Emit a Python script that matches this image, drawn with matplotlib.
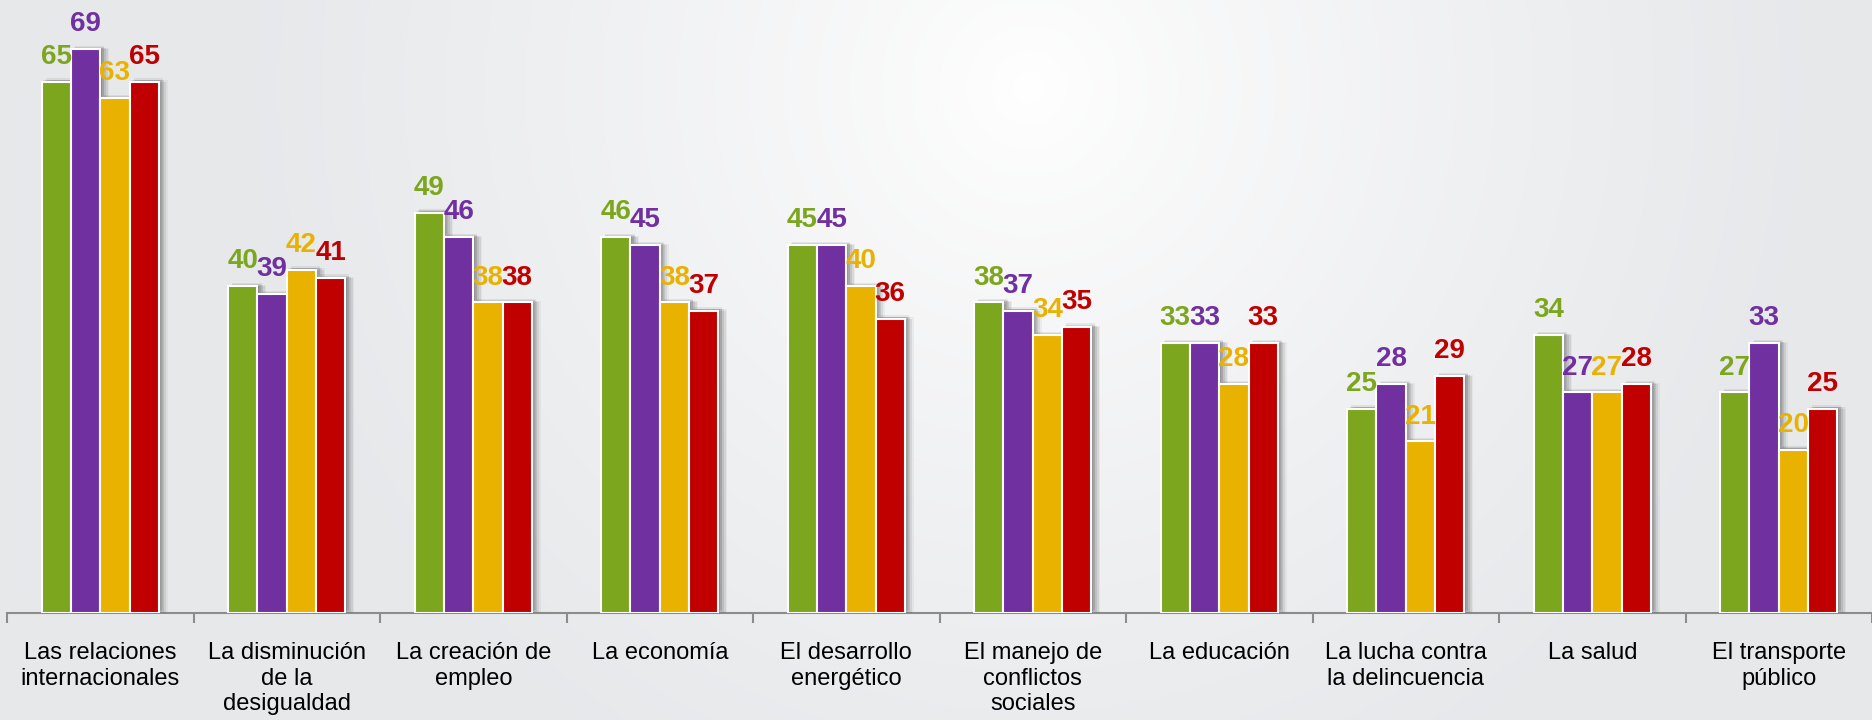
import matplotlib
matplotlib.use("Agg")
import matplotlib.pyplot as plt
import matplotlib.patheffects as pe
import numpy as np

plt.rcParams["font.family"] = ["Liberation Sans", "DejaVu Sans"]

categories = [
    "Las relaciones\ninternacionales",
    "La disminución\nde la\ndesigualdad",
    "La creación de\nempleo",
    "La economía",
    "El desarrollo\nenergético",
    "El manejo de\nconflictos\nsociales",
    "La educación",
    "La lucha contra\nla delincuencia",
    "La salud",
    "El transporte\npúblico",
]
serie_verde = [65, 40, 49, 46, 45, 38, 33, 25, 34, 27]
serie_morada = [69, 39, 46, 45, 45, 37, 33, 28, 27, 33]
serie_amarilla = [63, 42, 38, 38, 40, 34, 28, 21, 27, 20]
serie_roja = [65, 41, 38, 37, 36, 35, 33, 29, 28, 25]

GREEN = "#7BA61E"
PURPLE = "#7030A0"
YELLOW = "#E9B200"
RED = "#C00000"
AXIS = "#8C8C8C"

fig = plt.figure(figsize=(18.72, 7.2), dpi=100)

# background radial gradient
bg = fig.add_axes([0, 0, 1, 1], zorder=-10)
yy, xx = np.mgrid[0:1:300j, 0:1:780j]
d = np.sqrt(((xx - 0.55) * 2.6) ** 2 + ((yy - 0.12) * 1.0) ** 2)
d = np.clip(d / 1.1, 0, 1)
c_in = np.array([1.0, 1.0, 1.0])
c_out = np.array([0.905, 0.91, 0.92])
img = c_in + (c_out - c_in) * d[..., None] ** 0.8
bg.imshow(img, aspect="auto", extent=[0, 1, 0, 1], origin="upper")
bg.axis("off")

ax = fig.add_axes([7 / 1872, 107 / 720, 1865 / 1872, 613 / 720])
ax.patch.set_alpha(0)

series = [serie_verde, serie_morada, serie_amarilla, serie_roja]
colors = [GREEN, PURPLE, YELLOW, RED]
x = np.arange(len(categories))
w = 0.157

# soft drop shadow: several offset copies with low alpha
shadow = []
for dx, dy, a in [(1, 1, 0.10), (2.5, 1.5, 0.11), (4, 1, 0.11),
                  (5.5, 0, 0.09), (3, 2.5, 0.08), (1.5, -1, 0.06),
                  (6.5, 1, 0.05)]:
    shadow.append(pe.SimplePatchShadow(offset=(dx, dy), shadow_rgbFace="#2a2a2a",
                                       alpha=a))
shadow.append(pe.Normal())

for i, (vals, col) in enumerate(zip(series, colors)):
    pos = x + (i - 1.5) * w
    bars = ax.bar(pos, vals, width=w, color=col, edgecolor="white",
                  linewidth=1.5, zorder=3)
    for b in bars:
        b.set_path_effects(shadow)
    for p, v in zip(pos, vals):
        ax.annotate(f"{v}", (p, v), xytext=(0, 8.5), textcoords="offset points",
                    ha="center", va="bottom", color=col, fontsize=20,
                    fontweight="bold", zorder=5)

ax.set_xlim(-0.5, len(categories) - 0.5)
ax.set_ylim(0, 75)
for side in ["top", "right", "left"]:
    ax.spines[side].set_visible(False)
ax.spines["bottom"].set_color(AXIS)
ax.spines["bottom"].set_linewidth(1.5)
ax.set_yticks([])

ax.set_xticks(x)
ax.set_xticklabels(categories, fontsize=17, color="black", va="top",
                   linespacing=1.2)
ax.tick_params(axis="x", which="major", length=0, pad=21)
ax.set_xticks(np.arange(len(categories) + 1) - 0.5, minor=True)
ax.tick_params(axis="x", which="minor", length=7, width=1.5, color=AXIS,
               direction="out")

fig.savefig("out.png", dpi=100)
